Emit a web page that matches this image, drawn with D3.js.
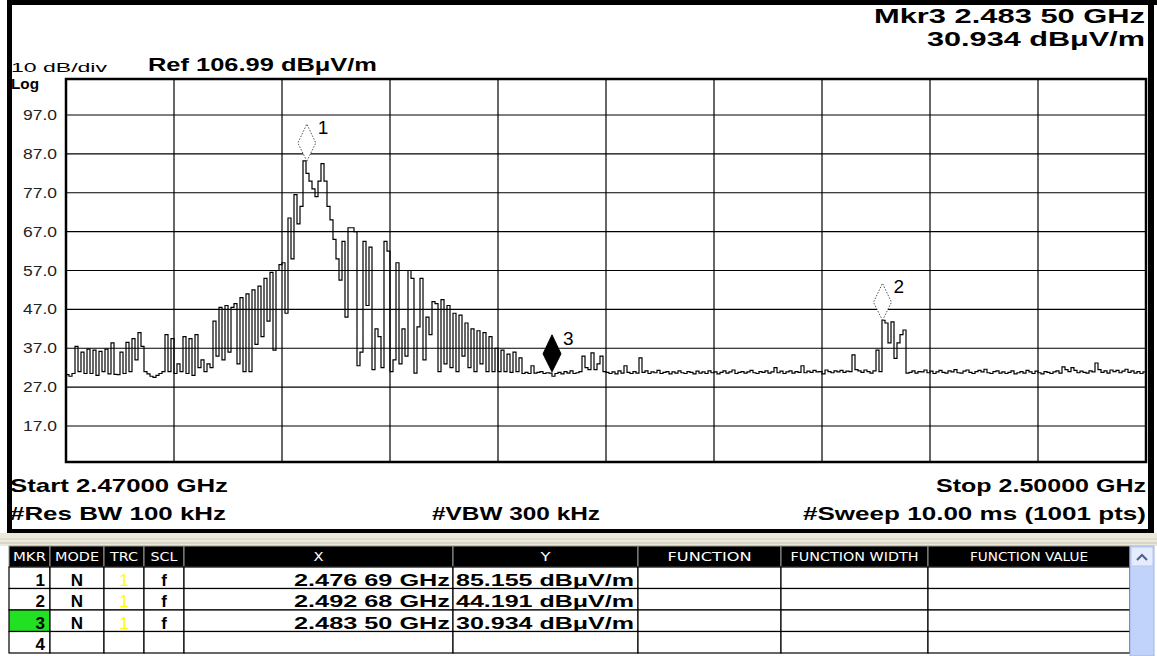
<!DOCTYPE html>
<html>
<head>
<meta charset="utf-8">
<script src="https://cdn.jsdelivr.net/npm/d3@7"></script>
<style>
  body { margin: 0; background: #fff; }
  svg { display: block; }
</style>
</head>
<body>
<svg id="chart"></svg>
<script>
const width = 1157
const height = 656

// sweep settings
const startGHz = 2.47
const stopGHz = 2.5
const yTicks = [97, 87, 77, 67, 57, 47, 37, 27, 17]

// trace level (dBuV/m), every 1/360 of the span
const traceLevels = [
  30.2, 29.8, 30.5, 37.5, 31, 36, 30.5, 36.8, 30.5, 36.5,
  30, 36.2, 31, 36.8, 30.4, 38.4, 30.3, 30.2, 36, 30.5,
  38.5, 31, 39.5, 34, 41, 37.5, 31, 30.4, 29.8, 29.5,
  30, 30.5, 31, 40.5, 31, 39.5, 30.5, 33, 31, 40,
  30.5, 39.5, 30, 40.5, 32, 34, 31, 33, 32, 44,
  35, 47.5, 34, 48, 36, 47.5, 48.5, 33, 50, 31,
  51, 31, 52, 38, 53, 40, 55, 44, 56.5, 36.5,
  57, 58.5, 59, 46, 70.5, 60, 76.5, 69, 73.5, 85.2,
  82, 80, 78, 76, 80, 84.5, 80, 73.5, 70, 65,
  60, 54.5, 64.5, 45, 68, 68, 67, 32.5, 36, 64.5,
  48, 63, 31.5, 42, 40, 32, 64.5, 62, 31, 34,
  59, 33, 42, 35, 57, 55, 30.6, 42.5, 55, 34,
  45, 40.5, 49, 48.5, 31, 49.5, 33, 48, 32, 46,
  31, 45.5, 35, 43.5, 32, 42, 31, 41.5, 33, 41,
  31, 40, 31, 37, 31, 36.5, 31, 35.5, 30.8, 36,
  31, 34.5, 30.5, 30.8, 30.5, 32.5, 30.6, 30.8, 31, 30.5,
  30.7, 30.6, 29.8, 30.5, 30.8, 30.4, 31, 30.6, 31.2, 30.5,
  30.7, 31, 35, 32, 31.5, 35.8, 31.5, 33, 35, 31,
  30.8, 30.5, 30.9, 30.4, 31.2, 30.6, 32.5, 30.8, 30.5, 31,
  30.6, 34.5, 30.8, 31.2, 30.5, 30.9, 30.7, 31.3, 30.5, 30.8,
  31, 30.4, 30.9, 30.6, 31.2, 30.7, 30.5, 31, 30.8, 30.4,
  31.1, 30.6, 30.9, 30.5, 31.2, 30.7, 30.9, 30.4, 30.8, 31.2,
  30.6, 30.9, 31.4, 30.5, 30.8, 31, 30.6, 30.9, 31.3, 30.7,
  30.5, 31, 30.8, 31.2, 30.6, 30.9, 32, 30.7, 31.1, 30.5,
  30.9, 31.2, 30.6, 31, 30.8, 32.5, 30.7, 31.1, 30.8, 31.3,
  30.9, 31, 30.4, 31.4, 31, 30.7, 31.2, 30.9, 31.3, 30.8,
  31.1, 31, 35.3, 31.5, 31.2, 30.8, 31.4, 31, 30.6, 31.2,
  36.5, 31, 44.2, 43.5, 38.4, 43.8, 34.4, 38.4, 40.5, 41.7,
  30.6, 30.8, 31.2, 30.6, 31, 30.9, 31.4, 30.7, 31.1, 30.5,
  30.9, 31.3, 30.8, 30.6, 31.2, 30.9, 31.5, 30.7, 30.6, 31.1,
  31.4, 30.8, 30.5, 31, 31.3, 30.9, 31.6, 30.7, 30.5, 31,
  31.2, 30.6, 30.9, 30.5, 30.8, 31.2, 30.4, 30.7, 31, 30.6,
  31.3, 30.9, 30.5, 31.1, 30.7, 30.4, 31, 30.8, 30.5, 30.9,
  31.2, 30.6, 32.2, 31.5, 31, 32, 31.3, 30.7, 31.1, 30.8,
  30.6, 31.2, 30.9, 33.2, 31.5, 30.8, 31.2, 30.6, 31.4, 31,
  31.3, 30.7, 31.1, 31.6, 30.8, 31.2, 30.6, 31, 30.5, 30.9,
  30.7
]

// markers
const markerIds = [1, 2, 3]
const markerFreqs = [2.47669, 2.49268, 2.4835]
const markerLevels = [85.155, 44.191, 30.934]
const activeMarker = 3

// marker table
const tableHeaders = ["MKR", "MODE", "TRC", "SCL", "X", "Y", "FUNCTION", "FUNCTION WIDTH", "FUNCTION VALUE"]
const markerModes = ["N", "N", "N"]
const markerTraces = ["1", "1", "1"]
const markerScales = ["f", "f", "f"]
const markerXText = ["2.476 69 GHz", "2.492 68 GHz", "2.483 50 GHz"]
const markerYText = ["85.155 dB\u03bcV/m", "44.191 dB\u03bcV/m", "30.934 dB\u03bcV/m"]

const plot = { left: 66, right: 1146, top: 79, bottom: 462 }

const svg = d3.select("#chart")
  .attr("width", width)
  .attr("height", height)
  .style("font-family", "Arial, 'Liberation Sans', sans-serif")

const x = d3.scaleLinear().domain([startGHz, stopGHz]).range([plot.left, plot.right])
const y = d3.scaleLinear().domain([17, 97]).range([426, 115])

// text helper, the screen is stretched sideways so widths are forced
function label(px, py, str, opts) {
  const t = svg.append("text")
    .attr("x", px)
    .attr("y", py)
    .attr("font-size", opts.size)
    .attr("font-weight", opts.bold ? "bold" : "normal")
    .attr("text-anchor", opts.anchor || "start")
    .attr("fill", opts.color || "#000")
    .text(str)
  if (opts.w) t.attr("textLength", opts.w).attr("lengthAdjust", "spacingAndGlyphs")
  return t
}

// instrument frame
svg.append("rect").attr("x", 7).attr("y", 0).attr("width", 1150).attr("height", 5).attr("fill", "#000")
svg.append("rect").attr("x", 7).attr("y", 0).attr("width", 5).attr("height", 533).attr("fill", "#000")
svg.append("rect").attr("x", 1148).attr("y", 0).attr("width", 6).attr("height", 533).attr("fill", "#000")
svg.append("rect").attr("x", 7).attr("y", 529).attr("width", 1147).attr("height", 4).attr("fill", "#000")

// header texts
label(11, 72, "10 dB/div", { size: 13, w: 96 })
label(11, 89, "Log", { size: 14, bold: true, w: 28 })
label(148, 71, "Ref 106.99 dB\u03bcV/m", { size: 19, bold: true, w: 229 })
label(1145, 23, "Mkr3 2.483 50 GHz", { size: 20, bold: true, anchor: "end", w: 271 })
label(1145, 46, "30.934 dB\u03bcV/m", { size: 20, bold: true, anchor: "end", w: 218 })

// grid
const grid = svg.append("g")
const vGrid = d3.range(11).map(i => startGHz + i * (stopGHz - startGHz) / 10)
grid.selectAll("line.v")
  .data(vGrid)
  .join("line")
  .attr("class", "v")
  .attr("x1", d => x(d)).attr("x2", d => x(d))
  .attr("y1", plot.top).attr("y2", plot.bottom)
  .attr("stroke", "#000").attr("stroke-width", 1.2)
grid.selectAll("line.h")
  .data(yTicks)
  .join("line")
  .attr("class", "h")
  .attr("x1", plot.left).attr("x2", plot.right)
  .attr("y1", d => y(d)).attr("y2", d => y(d))
  .attr("stroke", "#000").attr("stroke-width", 1.2)
svg.append("rect")
  .attr("x", plot.left).attr("y", plot.top)
  .attr("width", plot.right - plot.left).attr("height", plot.bottom - plot.top)
  .attr("fill", "none").attr("stroke", "#000").attr("stroke-width", 2.5)

// y labels
svg.selectAll("text.ytick")
  .data(yTicks)
  .join("text")
  .attr("class", "ytick")
  .attr("x", 57)
  .attr("y", d => y(d) + 5)
  .attr("text-anchor", "end")
  .attr("font-size", 14)
  .attr("fill", "#222")
  .attr("textLength", 34)
  .attr("lengthAdjust", "spacingAndGlyphs")
  .text(d => d.toFixed(1))

// trace
const step = (stopGHz - startGHz) / (traceLevels.length - 1)
svg.append("clipPath").attr("id", "clip")
  .append("rect")
  .attr("x", plot.left).attr("y", plot.top)
  .attr("width", plot.right - plot.left).attr("height", plot.bottom - plot.top)
const line = d3.line()
  .x((d, i) => x(startGHz + i * step))
  .y(d => y(d))
  .curve(d3.curveStepAfter)
svg.append("path")
  .datum(traceLevels)
  .attr("clip-path", "url(#clip)")
  .attr("d", line)
  .attr("fill", "none")
  .attr("stroke", "#000")
  .attr("stroke-width", 1.2)

// markers
const mk = svg.selectAll("g.marker")
  .data(markerIds)
  .join("g")
  .attr("class", "marker")
  .attr("transform", (d, i) => `translate(${x(markerFreqs[i])},${y(markerLevels[i])})`)
mk.append("path")
  .attr("d", "M0,0 L9,-18 L0,-37 L-9,-18 Z")
  .attr("fill", d => d === activeMarker ? "#000" : "#fff")
  .attr("stroke", d => d === activeMarker ? "#000" : "#555")
  .attr("stroke-dasharray", d => d === activeMarker ? null : "1.5 1.5")
mk.append("text")
  .attr("x", 11).attr("y", -27)
  .attr("font-size", 19)
  .text(d => d)

// footer texts
label(10, 492, "Start 2.47000 GHz", { size: 19, bold: true, w: 218 })
label(1146, 492, "Stop 2.50000 GHz", { size: 19, bold: true, anchor: "end", w: 210 })
label(10, 520, "#Res BW 100 kHz", { size: 19, bold: true, w: 216 })
label(432, 520, "#VBW 300 kHz", { size: 19, bold: true, w: 168 })
label(1146, 520, "#Sweep  10.00 ms (1001 pts)", { size: 19, bold: true, anchor: "end", w: 343 })

// marker table
svg.append("rect").attr("x", 0).attr("y", 533).attr("width", width).attr("height", 13).attr("fill", "#ece9d8")
svg.append("line").attr("x1", 0).attr("x2", width).attr("y1", 539).attr("y2", 539).attr("stroke", "#d4d0c8")
svg.append("line").attr("x1", 0).attr("x2", width).attr("y1", 543).attr("y2", 543).attr("stroke", "#c8c4b8")
const colEdges = [9, 50, 104, 144, 184, 453, 638, 781, 928, 1130]
const headerWidths = [33, 44, 28, 27, 10, 10, 84, 128, 118]
const headTop = 546, headH = 21, rowH = 21.5
tableHeaders.forEach((h, i) => {
  const x0 = colEdges[i], x1 = colEdges[i + 1]
  svg.append("rect").attr("x", x0).attr("y", headTop).attr("width", x1 - x0).attr("height", headH)
    .attr("fill", "#000").attr("stroke", "#999").attr("stroke-width", 1)
  svg.append("text")
    .attr("x", (x0 + x1) / 2).attr("y", headTop + 15)
    .attr("text-anchor", "middle")
    .attr("font-size", 13)
    .attr("fill", "#fff")
    .attr("textLength", headerWidths[i])
    .attr("lengthAdjust", "spacingAndGlyphs")
    .attr("font-family", "'DejaVu Sans Condensed', 'Liberation Sans Narrow', sans-serif")
    .text(h)
})
const rowCount = 4
const cellText = (px, py, str, anchor, len) => {
  const t = svg.append("text").attr("x", px).attr("y", py).attr("text-anchor", anchor)
    .attr("font-size", 17).attr("font-weight", "bold").text(str)
  if (len) t.attr("textLength", len).attr("lengthAdjust", "spacingAndGlyphs")
  return t
}
for (let r = 0; r < rowCount; r++) {
  const top = headTop + headH + r * rowH
  for (let c = 0; c < tableHeaders.length; c++) {
    const x0 = colEdges[c], x1 = colEdges[c + 1]
    svg.append("rect").attr("x", x0).attr("y", top).attr("width", x1 - x0).attr("height", rowH)
      .attr("fill", c === 0 && r + 1 === activeMarker ? "#22e022" : "#fff")
      .attr("stroke", "#000").attr("stroke-width", 1.2)
  }
  const base = top + rowH - 3
  cellText(colEdges[1] - 5, base, r < markerIds.length ? markerIds[r] : r + 1, "end")
  if (r < markerIds.length) {
    cellText((colEdges[1] + colEdges[2]) / 2, base, markerModes[r], "middle")
    cellText((colEdges[2] + colEdges[3]) / 2, base, markerTraces[r], "middle").attr("fill", "#ffff00").attr("font-weight", "normal")
    cellText((colEdges[3] + colEdges[4]) / 2, base, markerScales[r], "middle")
    cellText(colEdges[5] - 3, base, markerXText[r], "end", 156)
    cellText(colEdges[5] + 3, base, markerYText[r], "start", 178)
  }
}
// scrollbar
svg.append("rect").attr("x", 1130).attr("y", headTop).attr("width", 24).attr("height", height - headTop)
  .attr("fill", "#c1d3fb").attr("stroke", "#9db3e6")
svg.append("rect").attr("x", 1131).attr("y", headTop + 1).attr("width", 22).attr("height", 19)
  .attr("fill", "#e4ecfd").attr("stroke", "#b8c8ee")
svg.append("path").attr("d", "M1137,560 L1142,555 L1147,560").attr("fill", "none").attr("stroke", "#4d6185").attr("stroke-width", 2)
</script>
</body>
</html>
